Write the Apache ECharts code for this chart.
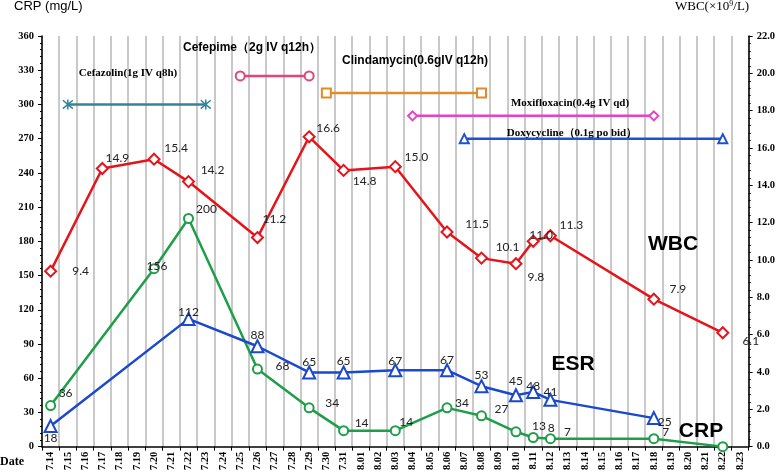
<!DOCTYPE html>
<html>
<head>
<meta charset="utf-8">
<title>WBC / ESR / CRP</title>
<script src="https://cdn.jsdelivr.net/npm/echarts@6/dist/echarts.min.js"></script>
<style>
    html, body { margin: 0; padding: 0; background: #fff; }
    #main { width: 778px; height: 473px; }
</style>
</head>
<body>
<div id="main"></div>
<script>
// x axis dates
var dates = ['7.14', '7.15', '7.16', '7.17', '7.18', '7.19', '7.20', '7.21', '7.22', '7.23', '7.24', '7.25',
    '7.26', '7.27', '7.28', '7.29', '7.30', '7.31', '8.01', '8.02', '8.03', '8.04', '8.05', '8.06', '8.07',
    '8.08', '8.09', '8.10', '8.11', '8.12', '8.13', '8.14', '8.15', '8.16', '8.17', '8.18', '8.19', '8.20',
    '8.21', '8.22', '8.23'];

// WBC (x10^9/L), right axis
var wbcDates = ['7.14', '7.17', '7.20', '7.22', '7.26', '7.29', '7.31', '8.03', '8.06', '8.08', '8.10', '8.11', '8.12', '8.18', '8.22'];
var wbcValues = [9.4, 14.9, 15.4, 14.2, 11.2, 16.6, 14.8, 15.0, 11.5, 10.1, 9.8, 11.0, 11.3, 7.9, 6.1];

// CRP (mg/L), left axis
var crpDates = ['7.14', '7.20', '7.22', '7.26', '7.29', '7.31', '8.03', '8.06', '8.08', '8.10', '8.11', '8.12', '8.18', '8.22'];
var crpValues = [36, 156, 200, 68, 34, 14, 14, 34, 27, 13, 8, 7, 7, 0];

// ESR, left axis
var esrDates = ['7.14', '7.22', '7.26', '7.29', '7.31', '8.03', '8.06', '8.08', '8.10', '8.11', '8.12', '8.18'];
var esrValues = [18, 112, 88, 65, 65, 67, 67, 53, 45, 48, 41, 25];

// antibiotics
var drugNames = ['Cefazolin(1g IV q8h)', 'Cefepime（2g IV q12h）', 'Clindamycin(0.6gIV q12h)',
    'Moxifloxacin(0.4g IV qd)', 'Doxycycline（0.1g po bid）'];
var drugStart = ['7.15', '7.25', '7.30', '8.04', '8.07'];
var drugEnd = ['7.23', '7.29', '8.08', '8.18', '8.22'];
var drugLevel = [300, 325, 310, 290, 270];

// axis ticks
var crpMax = 360, crpStep = 30;
var wbcMax = 22, wbcStep = 2;

// label shifts (px) relative to each marker
var wbcShift = [[30, 0], [15, -10], [22, -11], [24, -11], [17, -18], [19, -9], [21, 11], [21, -10],
    [30, -8], [26, -11], [20, 13], [8, -6], [21, -11], [24, -10], [28, 8]];
var crpShift = [[15, -12], [3, -3], [18, -9], [25, -3], [23, -5], [18, -8], [11, -9], [15, -5],
    [20, -7], [23, -6], [18, -9], [17, -7], [12, -7], [0, 0]];
var esrShift = [[0, 12], [0, -7], [0, -11], [0, -10], [0, -11], [0, -9], [0, -10], [0, -11],
    [0, -14], [0, -6], [0, -8], [11, 4]];

var drugColors = ['#31849b', '#e2457a', '#e38a2b', '#e643c3', '#1e50d4'];
var drugSymbols = ['path://M0,-6L0,6M-5,-5L5,5M-5,5L5,-5', 'emptyCircle', 'emptyRect', 'emptyDiamond', 'emptyTriangle'];
var drugTextPos = [[128, 73, 'serif'], [252, 48, 'sans'], [415, 61, 'sans'], [570, 103, 'serif'], [572, 133, 'serif']];

var labelFont = 'Lato';

function points(ds, vs, shift) {
    var out = [];
    for (var i = 0; i < ds.length; i++) {
        out.push({
            value: [ds[i], vs[i]],
            label: {offset: shift[i]}
        });
    }
    return out;
}

var series = [];

for (var i = 0; i < drugNames.length; i++) {
    series.push({
        name: drugNames[i],
        type: 'line',
        yAxisIndex: 0,
        data: [[drugStart[i], drugLevel[i]], [drugEnd[i], drugLevel[i]]],
        symbol: drugSymbols[i],
        symbolSize: i == 0 ? 10 : 9,
        lineStyle: {color: drugColors[i], width: 2.5},
        itemStyle: {color: drugColors[i], borderColor: drugColors[i], borderWidth: 1.5},
        z: 2
    });
}

series.push({
    name: 'CRP',
    type: 'line',
    yAxisIndex: 0,
    data: points(crpDates, crpValues, crpShift),
    symbol: 'emptyCircle',
    symbolSize: 9,
    lineStyle: {color: '#1f9e4a', width: 2.5},
    itemStyle: {color: '#1f9e4a', borderWidth: 1.5},
    label: {
        show: true, position: 'inside', color: '#222', fontFamily: labelFont, fontSize: 12,
        formatter: function (params) {
            return params.value[1] > 0 ? params.value[1] : ' ';
        }
    },
    z: 3
});

series.push({
    name: 'ESR',
    type: 'line',
    yAxisIndex: 0,
    data: points(esrDates, esrValues, esrShift),
    symbol: 'emptyTriangle',
    symbolSize: 12,
    lineStyle: {color: '#1a48cf', width: 2.5},
    itemStyle: {color: '#1a48cf', borderWidth: 1.5},
    label: {
        show: true, position: 'inside', color: '#222', fontFamily: labelFont, fontSize: 12,
        formatter: function (params) {
            return params.value[1];
        }
    },
    z: 4
});

series.push({
    name: 'WBC',
    type: 'line',
    yAxisIndex: 1,
    data: points(wbcDates, wbcValues, wbcShift),
    symbol: 'emptyDiamond',
    symbolSize: 11,
    lineStyle: {color: '#e5141b', width: 2.5},
    itemStyle: {color: '#e5141b', borderWidth: 1.5},
    label: {
        show: true, position: 'inside', color: '#222', fontFamily: labelFont, fontSize: 12,
        formatter: function (params) {
            return params.value[1].toFixed(1);
        }
    },
    z: 5
});

var graphics = [
    {type: 'text', z: 100, left: 14, top: 0, style: {text: 'CRP (mg/L)', font: '13px "Liberation Sans"', fill: '#000'}},
    {type: 'text', z: 100, left: 675, top: 0, style: {
        text: 'WBC(×10{sup|9}/L)', font: '13px "Liberation Serif"', fill: '#000',
        rich: {sup: {fontSize: 8, verticalAlign: 'top', padding: [0, 0, 6, 0], fontFamily: 'Liberation Serif'}}
    }},
    {type: 'text', z: 100, left: 0, top: 456, style: {text: 'Date', font: 'bold 12px "Liberation Serif"', fill: '#000'}},
    {type: 'text', z: 100, x: 673, y: 244, style: {text: 'WBC', font: 'bold 21px "Liberation Sans"', fill: '#000', align: 'center', verticalAlign: 'middle'}},
    {type: 'text', z: 100, x: 573, y: 364, style: {text: 'ESR', font: 'bold 21px "Liberation Sans"', fill: '#000', align: 'center', verticalAlign: 'middle'}},
    {type: 'text', z: 100, x: 701, y: 431, style: {text: 'CRP', font: 'bold 21px "Liberation Sans"', fill: '#000', align: 'center', verticalAlign: 'middle'}}
];
for (var j = 0; j < drugNames.length; j++) {
    var p = drugTextPos[j];
    graphics.push({
        type: 'text', z: 100, x: p[0], y: p[1],
        style: {
            text: drugNames[j],
            font: p[2] == 'serif' ? 'bold 11px "Liberation Serif"' : 'bold 12px "Liberation Sans"',
            fill: '#000', align: 'center', verticalAlign: 'middle'
        }
    });
}

var myChart = echarts.init(document.getElementById('main'));
var option = {
    animation: false,
    backgroundColor: '#fff',
    grid: {left: 42, right: 29, top: 36, bottom: 26, containLabel: false},
    xAxis: [{
        type: 'category',
        data: dates,
        boundaryGap: true,
        axisLine: {lineStyle: {color: '#000', width: 1.5}},
        axisTick: {show: true, length: 4, lineStyle: {color: '#000'}},
        axisLabel: {
            interval: 0, rotate: 90, margin: 5, color: '#000',
            fontFamily: 'Liberation Serif', fontWeight: 'bold', fontSize: 10.5
        },
        splitLine: {show: true, interval: 0, lineStyle: {color: '#c9c9c9', width: 2}}
    }],
    yAxis: [{
        type: 'value',
        min: 0, max: crpMax, interval: crpStep,
        position: 'left',
        axisLine: {show: true, lineStyle: {color: '#000', width: 1.5}},
        axisTick: {show: true, length: 4, lineStyle: {color: '#000'}},
        minorTick: {show: true, splitNumber: 5, length: 2, lineStyle: {color: '#000'}},
        axisLabel: {margin: 8, color: '#000', fontFamily: 'Liberation Serif', fontWeight: 'bold', fontSize: 10.5},
        splitLine: {show: false}
    }, {
        type: 'value',
        min: 0, max: wbcMax, interval: wbcStep,
        position: 'right',
        axisLine: {show: true, lineStyle: {color: '#000', width: 1.5}},
        axisTick: {show: true, length: 4, lineStyle: {color: '#000'}},
        minorTick: {show: true, splitNumber: 5, length: 2, lineStyle: {color: '#000'}},
        axisLabel: {
            margin: 8, color: '#000', fontFamily: 'Liberation Serif', fontWeight: 'bold', fontSize: 10.5,
            formatter: function (v) {
                return v.toFixed(1);
            }
        },
        splitLine: {show: false}
    }],
    series: series,
    graphic: graphics
};
myChart.setOption(option);
</script>
</body>
</html>
